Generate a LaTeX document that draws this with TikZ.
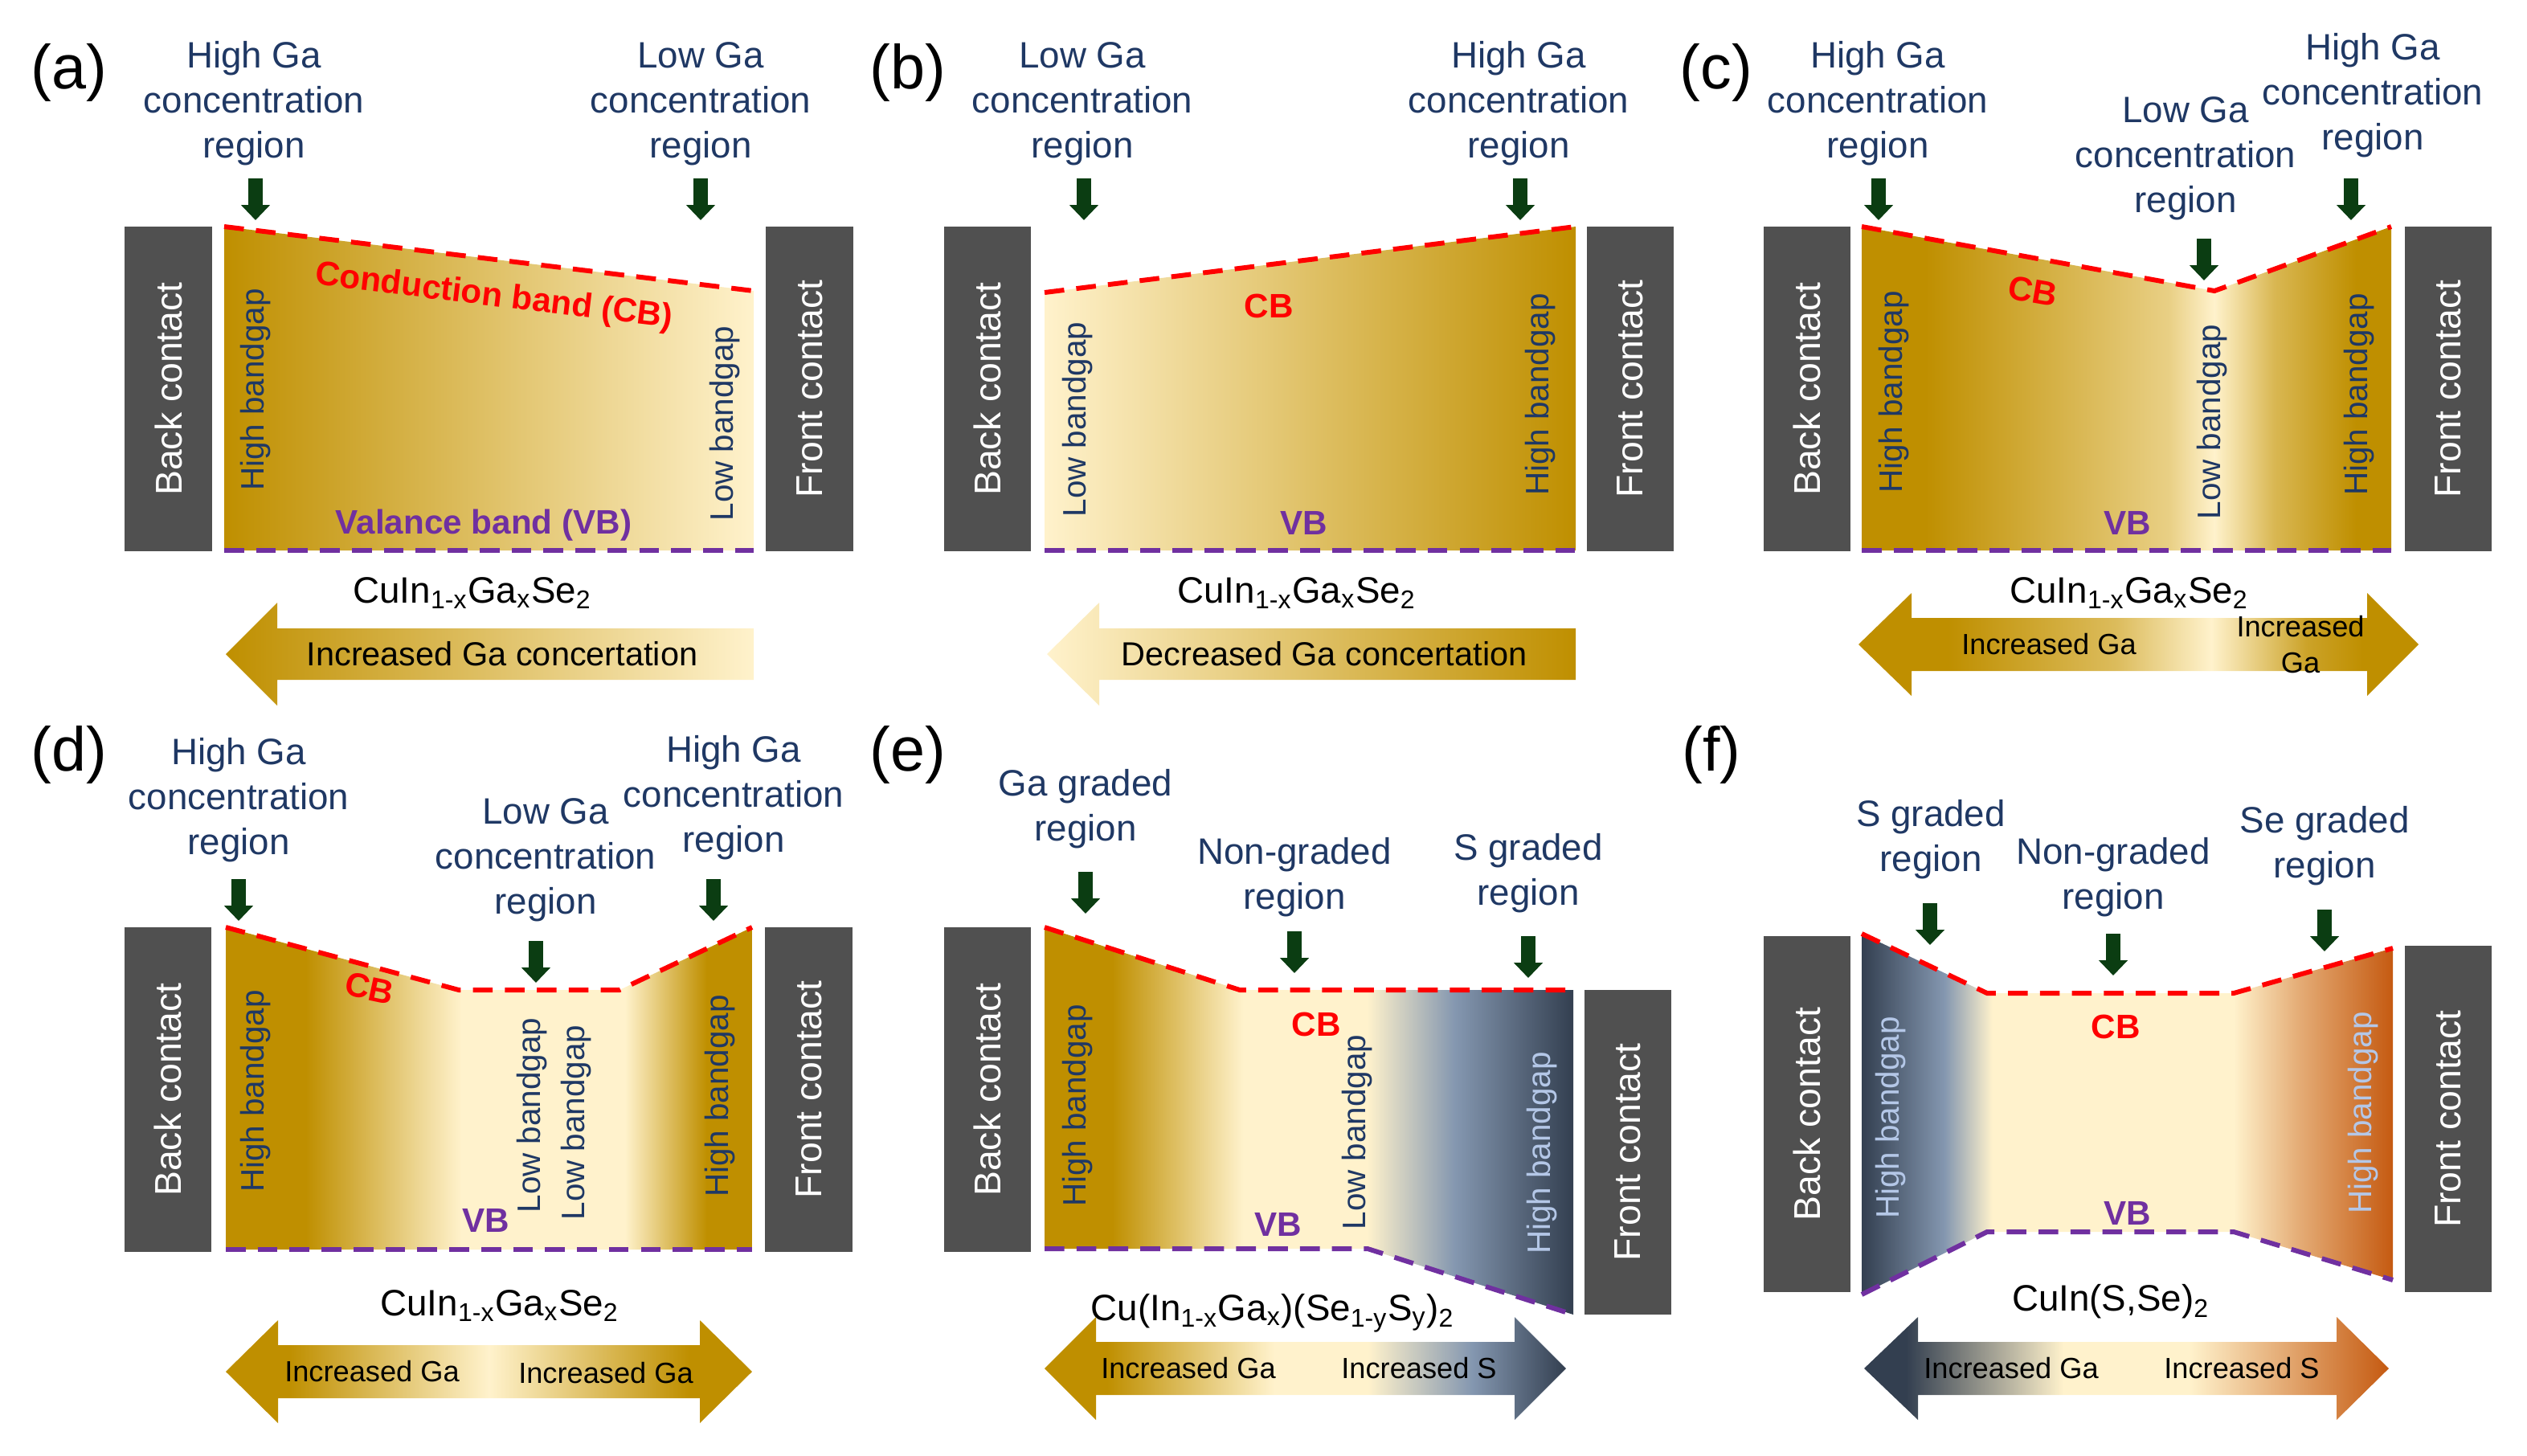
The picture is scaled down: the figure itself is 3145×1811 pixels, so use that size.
\documentclass[tikz,border=0pt]{standalone}
\usepackage{fontspec}
\setmainfont{Liberation Sans}
\usetikzlibrary{arrows.meta}

\definecolor{gagold}{HTML}{BF8F00}
\definecolor{gapale}{HTML}{FFF2CC}
\definecolor{snavy}{HTML}{333F50}
\definecolor{sgrey}{HTML}{8497B0}
\definecolor{seorange}{HTML}{C55A11}
\definecolor{labelblue}{HTML}{1F3864}
\definecolor{arrowgreen}{HTML}{0B3D12}
\definecolor{contactgrey}{HTML}{505050}
\definecolor{cbred}{HTML}{FF0000}
\definecolor{vbpurple}{HTML}{7030A0}
\definecolor{gaplight}{HTML}{B4C7E7}

% shadings: the band runs from 25bp to 75bp
\pgfdeclarehorizontalshading{bandc}{100bp}{color(0bp)=(gagold); color(25bp)=(gagold); color(31bp)=(gagold); color(54bp)=(gagold!35!gapale); color(58.3bp)=(gapale); color(64bp)=(gagold!60!gapale); color(71.7bp)=(gagold); color(100bp)=(gagold)}
\pgfdeclarehorizontalshading{bandd}{100bp}{color(0bp)=(gagold); color(25bp)=(gagold); color(32.6bp)=(gagold); color(47.4bp)=(gapale); color(62.9bp)=(gapale); color(70.7bp)=(gagold); color(100bp)=(gagold)}
\pgfdeclarehorizontalshading{bande}{100bp}{color(0bp)=(gagold); color(25bp)=(gagold); color(31.4bp)=(gagold); color(43.8bp)=(gapale); color(55.5bp)=(gapale); color(63.8bp)=(sgrey); color(75bp)=(snavy); color(100bp)=(snavy)}
\pgfdeclarehorizontalshading{bandf}{100bp}{color(0bp)=(snavy); color(25bp)=(snavy); color(32.8bp)=(sgrey); color(37.3bp)=(gapale); color(60bp)=(gapale); color(66bp)=(seorange!45!gapale); color(75bp)=(seorange); color(100bp)=(seorange)}
\pgfdeclarehorizontalshading{arrc}{100bp}{color(0bp)=(gagold); color(25bp)=(gagold); color(33bp)=(gagold); color(48bp)=(gagold!55!gapale); color(56.5bp)=(gapale); color(65bp)=(gagold!80!gapale); color(70bp)=(gagold); color(100bp)=(gagold)}
\pgfdeclarehorizontalshading{arrd}{100bp}{color(0bp)=(gagold); color(25bp)=(gagold); color(31bp)=(gagold); color(50bp)=(gapale); color(69bp)=(gagold); color(100bp)=(gagold)}
\pgfdeclarehorizontalshading{arre}{100bp}{color(0bp)=(gagold); color(25bp)=(gagold); color(31bp)=(gagold); color(47bp)=(gapale); color(56bp)=(gapale); color(66bp)=(sgrey); color(75bp)=(snavy); color(100bp)=(snavy)}
\pgfdeclarehorizontalshading{arrf}{100bp}{color(0bp)=(snavy); color(25bp)=(snavy); color(29bp)=(snavy); color(44bp)=(gapale); color(56bp)=(gapale); color(75bp)=(seorange); color(100bp)=(seorange)}

\tikzset{
  bandcontact/.style={rectangle, fill=contactgrey, text=white, rotate=90, minimum height=1.08cm, inner sep=0pt, font=\fontsize{13.2}{16}\selectfont},
  bandregion/.style={align=center, text=labelblue, inner sep=0pt, font=\fontsize{13}{15.9}\selectfont},
  gaptext/.style={rotate=90, text=labelblue, inner sep=0pt, font=\fontsize{11.5}{14}\selectfont},
  cbtext/.style={text=cbred, inner sep=0pt, font=\fontsize{12}{14}\selectfont\bfseries},
  vbtext/.style={text=vbpurple, inner sep=0pt, font=\fontsize{12}{14}\selectfont\bfseries},
  cbline/.style={draw=cbred, line width=1.7pt, dash pattern=on 7pt off 4.3pt},
  vbline/.style={draw=vbpurple, line width=1.7pt, dash pattern=on 7pt off 4.3pt},
  gapointer/.style={draw=arrowgreen, line width=5.1pt, -{Triangle[length=5.4pt,width=10pt]}},
  formula/.style={inner sep=0pt, font=\fontsize{13}{16}\selectfont},
  arrowtext/.style={inner sep=0pt, font=\fontsize{11.8}{14}\selectfont},
  smallarrowtext/.style={inner sep=0pt, align=center, font=\fontsize{10.3}{12.8}\selectfont},
  tagtext/.style={inner sep=0pt, font=\fontsize{22}{26}\selectfont}
}

\newcommand{\paneltag}[3] {\node at (#1) (#2) [tagtext] {#3};}
\newcommand{\bandregion}[3] {\node at (#1) (#2) [bandregion] {#3};}
\newcommand{\bandcontact}[4] {\node at (#1) (#2) [bandcontact, minimum width=#3] {#4};}
\newcommand{\bandgap}[3] {\node at (#1) (#2) [gaptext] {#3};}
\newcommand{\bandpointer}[3] {\coordinate (#2) at (#1); \coordinate (#2tip) at (#3); \draw [gapointer] (#2) -- (#2tip);}
\newcommand{\onearrow}[5] {\shade [#5] (#3,#4-32) -- (#2,#4-32) -- (#2,#4-64) -- (#1,#4) -- (#2,#4+64) -- (#2,#4+32) -- (#3,#4+32) -- cycle;}
\newcommand{\twoarrow}[6] {\shade [#6] (#1,#5) -- (#2,#5-64) -- (#2,#5-33) -- (#3,#5-33) -- (#3,#5-64) -- (#4,#5) -- (#3,#5+64) -- (#3,#5+33) -- (#2,#5+33) -- (#2,#5+64) -- cycle;}

\begin{document}
\begin{tikzpicture}[x=0.01cm, y=-0.01cm]

\useasboundingbox (0,0) rectangle (3145,1811);

% (a)
\paneltag {86,90}{taga}{(a)}
\bandregion {316,129}{ra1}{High Ga\\concentration\\region}
\bandregion {872,129}{ra2}{Low Ga\\concentration\\region}
\bandpointer {318,222}{pa1}{318,274}
\bandpointer {872,222}{pa2}{872,274}
\bandcontact {209.5,484}{backa}{4.04cm}{Back contact}
\bandcontact {1007.5,484}{fronta}{4.04cm}{Front contact}
\shade [left color=gagold, right color=gapale] (279,282) -- (938,362) -- (938,685) -- (279,685) -- cycle;
\draw [cbline] (279,282) -- (938,362);
\draw [vbline] (279,685) -- (938,685);
\node at (615,370) (cba) [cbtext, rotate=-6.9] {Conduction band (CB)};
\node at (602,654) (vba) [vbtext] {Valance band (VB)};
\bandgap {318,485}{hga}{High bandgap}
\bandgap {902,527}{lga}{Low bandgap}
\node at (588,738) (fa) [formula] {CuIn\textsubscript{1-x}Ga\textsubscript{x}Se\textsubscript{2}};
\onearrow {281}{345}{938}{814}{left color=gagold, right color=gapale}
\node at (625,814) (ta) [arrowtext] {Increased Ga concertation};

% (b)
\paneltag {1130,90}{tagb}{(b)}
\bandregion {1347,129}{rb1}{Low Ga\\concentration\\region}
\bandregion {1890,129}{rb2}{High Ga\\concentration\\region}
\bandpointer {1349,222}{pb1}{1349,274}
\bandpointer {1892,222}{pb2}{1892,274}
\bandcontact {1229,484}{backb}{4.04cm}{Back contact}
\bandcontact {2029,484}{frontb}{4.04cm}{Front contact}
\shade [left color=gapale, right color=gagold] (1300,364) -- (1961,282) -- (1961,685) -- (1300,685) -- cycle;
\draw [cbline] (1300,364) -- (1961,282);
\draw [vbline] (1300,685) -- (1961,685);
\node at (1579,381) (cbb) [cbtext] {CB};
\node at (1623,651) (vbb) [vbtext] {VB};
\bandgap {1341,522}{lgb}{Low bandgap}
\bandgap {1917,491}{hgb}{High bandgap}
\node at (1614,738) (fb) [formula] {CuIn\textsubscript{1-x}Ga\textsubscript{x}Se\textsubscript{2}};
\onearrow {1303}{1368}{1961}{814}{left color=gapale, right color=gagold}
\node at (1648,814) (tb) [arrowtext] {Decreased Ga concertation};

% (c)
\paneltag {2136,90}{tagc}{(c)}
\bandregion {2337,129}{rc1}{High Ga\\concentration\\region}
\bandregion {2720,197}{rc2}{Low Ga\\concentration\\region}
\bandregion {2953,119}{rc3}{High Ga\\concentration\\region}
\bandpointer {2338,222}{pc1}{2338,274}
\bandpointer {2743,297}{pc2}{2743,349}
\bandpointer {2926,222}{pc3}{2926,274}
\bandcontact {2249,484}{backc}{4.04cm}{Back contact}
\bandcontact {3046.5,484}{frontc}{4.04cm}{Front contact}
\shade [shading=bandc] (2317,282) -- (2756,362) -- (2976,282) -- (2976,685) -- (2317,685) -- cycle;
\draw [cbline] (2317,282) -- (2756,362) -- (2976,282);
\draw [vbline] (2317,685) -- (2976,685);
\node at (2530,362) (cbc) [cbtext, rotate=-10] {CB};
\node at (2648,651) (vbc) [vbtext] {VB};
\bandgap {2357,488}{hgc1}{High bandgap}
\bandgap {2753,525}{lgc}{Low bandgap}
\bandgap {2936,491}{hgc2}{High bandgap}
\node at (2650,738) (fc) [formula] {CuIn\textsubscript{1-x}Ga\textsubscript{x}Se\textsubscript{2}};
\twoarrow {2313}{2379}{2946}{3010}{802}{shading=arrc}
\node at (2550,802) (tc1) [smallarrowtext] {Increased Ga};
\node at (2863,802) (tc2) [smallarrowtext] {Increased\\Ga};

% (d)
\paneltag {86,939}{tagd}{(d)}
\bandregion {297,996}{rd1}{High Ga\\concentration\\region}
\bandregion {679,1070}{rd2}{Low Ga\\concentration\\region}
\bandregion {913,993}{rd3}{High Ga\\concentration\\region}
\bandpointer {297,1094}{pd1}{297,1146}
\bandpointer {667,1171}{pd2}{667,1223}
\bandpointer {888,1094}{pd3}{888,1146}
\bandcontact {209,1356}{backd}{4.04cm}{Back contact}
\bandcontact {1006.5,1356}{frontd}{4.04cm}{Front contact}
\shade [shading=bandd] (281,1154) -- (571,1232) -- (771,1232) -- (936,1154) -- (936,1555) -- (281,1555) -- cycle;
\draw [cbline] (281,1154) -- (571,1232) -- (771,1232) -- (936,1154);
\draw [vbline] (281,1555) -- (936,1555);
\node at (460,1230) (cbd) [cbtext, rotate=-12] {CB};
\node at (605,1519) (vbd) [vbtext] {VB};
\bandgap {318,1358}{hgd1}{High bandgap}
\bandgap {662,1388}{lgd1}{Low bandgap}
\bandgap {717,1397}{lgd2}{Low bandgap}
\bandgap {896,1364}{hgd2}{High bandgap}
\node at (622,1625) (fd) [formula] {CuIn\textsubscript{1-x}Ga\textsubscript{x}Se\textsubscript{2}};
\twoarrow {281}{346}{871}{936}{1707}{shading=arrd}
\node at (463,1707) (td1) [smallarrowtext] {Increased Ga};
\node at (754,1709) (td2) [smallarrowtext] {Increased Ga};

% (e)
\paneltag {1130,939}{tage}{(e)}
\bandregion {1351,1007}{re1}{Ga graded\\region}
\bandregion {1611,1092}{re2}{Non-graded\\region}
\bandregion {1902,1087}{re3}{S graded\\region}
\bandpointer {1351,1085}{pe1}{1351,1137}
\bandpointer {1611,1159}{pe2}{1611,1211}
\bandpointer {1902,1165}{pe3}{1902,1217}
\bandcontact {1229,1356}{backe}{4.04cm}{Back contact}
\bandcontact {2026,1434}{fronte}{4.04cm}{Front contact}
\shade [shading=bande] (1300,1154) -- (1543,1232) -- (1958,1232) -- (1958,1636) -- (1702,1554) -- (1300,1554) -- cycle;
\draw [cbline] (1300,1154) -- (1543,1232) -- (1958,1232);
\draw [vbline] (1300,1554) -- (1702,1554) -- (1958,1636);
\node at (1638,1275) (cbe) [cbtext] {CB};
\node at (1591,1524) (vbe) [vbtext] {VB};
\bandgap {1341,1376}{hge1}{High bandgap}
\bandgap {1689,1409}{lge}{Low bandgap}
\node at (1919,1435) (hge2) [gaptext, text=gaplight] {High bandgap};
\node at (1584,1634) (fe) [formula] {Cu(In\textsubscript{1-x}Ga\textsubscript{x})(Se\textsubscript{1-y}S\textsubscript{y})\textsubscript{2}};
\twoarrow {1300}{1364}{1885}{1949}{1703}{shading=arre}
\node at (1479,1703) (te1) [smallarrowtext] {Increased Ga};
\node at (1766,1703) (te2) [smallarrowtext] {Increased S};

% (f)
\paneltag {2130,939}{tagf}{(f)}
\bandregion {2403,1045}{rf1}{S graded\\region}
\bandregion {2630,1092}{rf2}{Non-graded\\region}
\bandregion {2893,1053}{rf3}{Se graded\\region}
\bandpointer {2402,1124}{pf1}{2402,1176}
\bandpointer {2630,1162}{pf2}{2630,1214}
\bandpointer {2893,1132}{pf3}{2893,1184}
\bandcontact {2249,1386.5}{backf}{4.43cm}{Back contact}
\bandcontact {3046.5,1392.5}{frontf}{4.31cm}{Front contact}
\shade [shading=bandf] (2317,1162) -- (2473,1236) -- (2780,1236) -- (2978,1180) -- (2978,1593) -- (2780,1533) -- (2473,1533) -- (2317,1611) -- cycle;
\draw [cbline] (2317,1162) -- (2473,1236) -- (2780,1236) -- (2978,1180);
\draw [vbline] (2317,1611) -- (2473,1533) -- (2780,1533) -- (2978,1593);
\node at (2633,1278) (cbf) [cbtext] {CB};
\node at (2648,1510) (vbf) [vbtext] {VB};
\node at (2353,1391) (hgf1) [gaptext, text=gaplight] {High bandgap};
\node at (2941,1385) (hgf2) [gaptext, text=gaplight] {High bandgap};
\node at (2627,1620) (ff) [formula] {CuIn(S,Se)\textsubscript{2}};
\twoarrow {2320}{2387}{2908}{2973}{1703}{shading=arrf}
\node at (2503,1703) (tf1) [smallarrowtext] {Increased Ga};
\node at (2790,1703) (tf2) [smallarrowtext] {Increased S};

\end{tikzpicture}
\end{document}
